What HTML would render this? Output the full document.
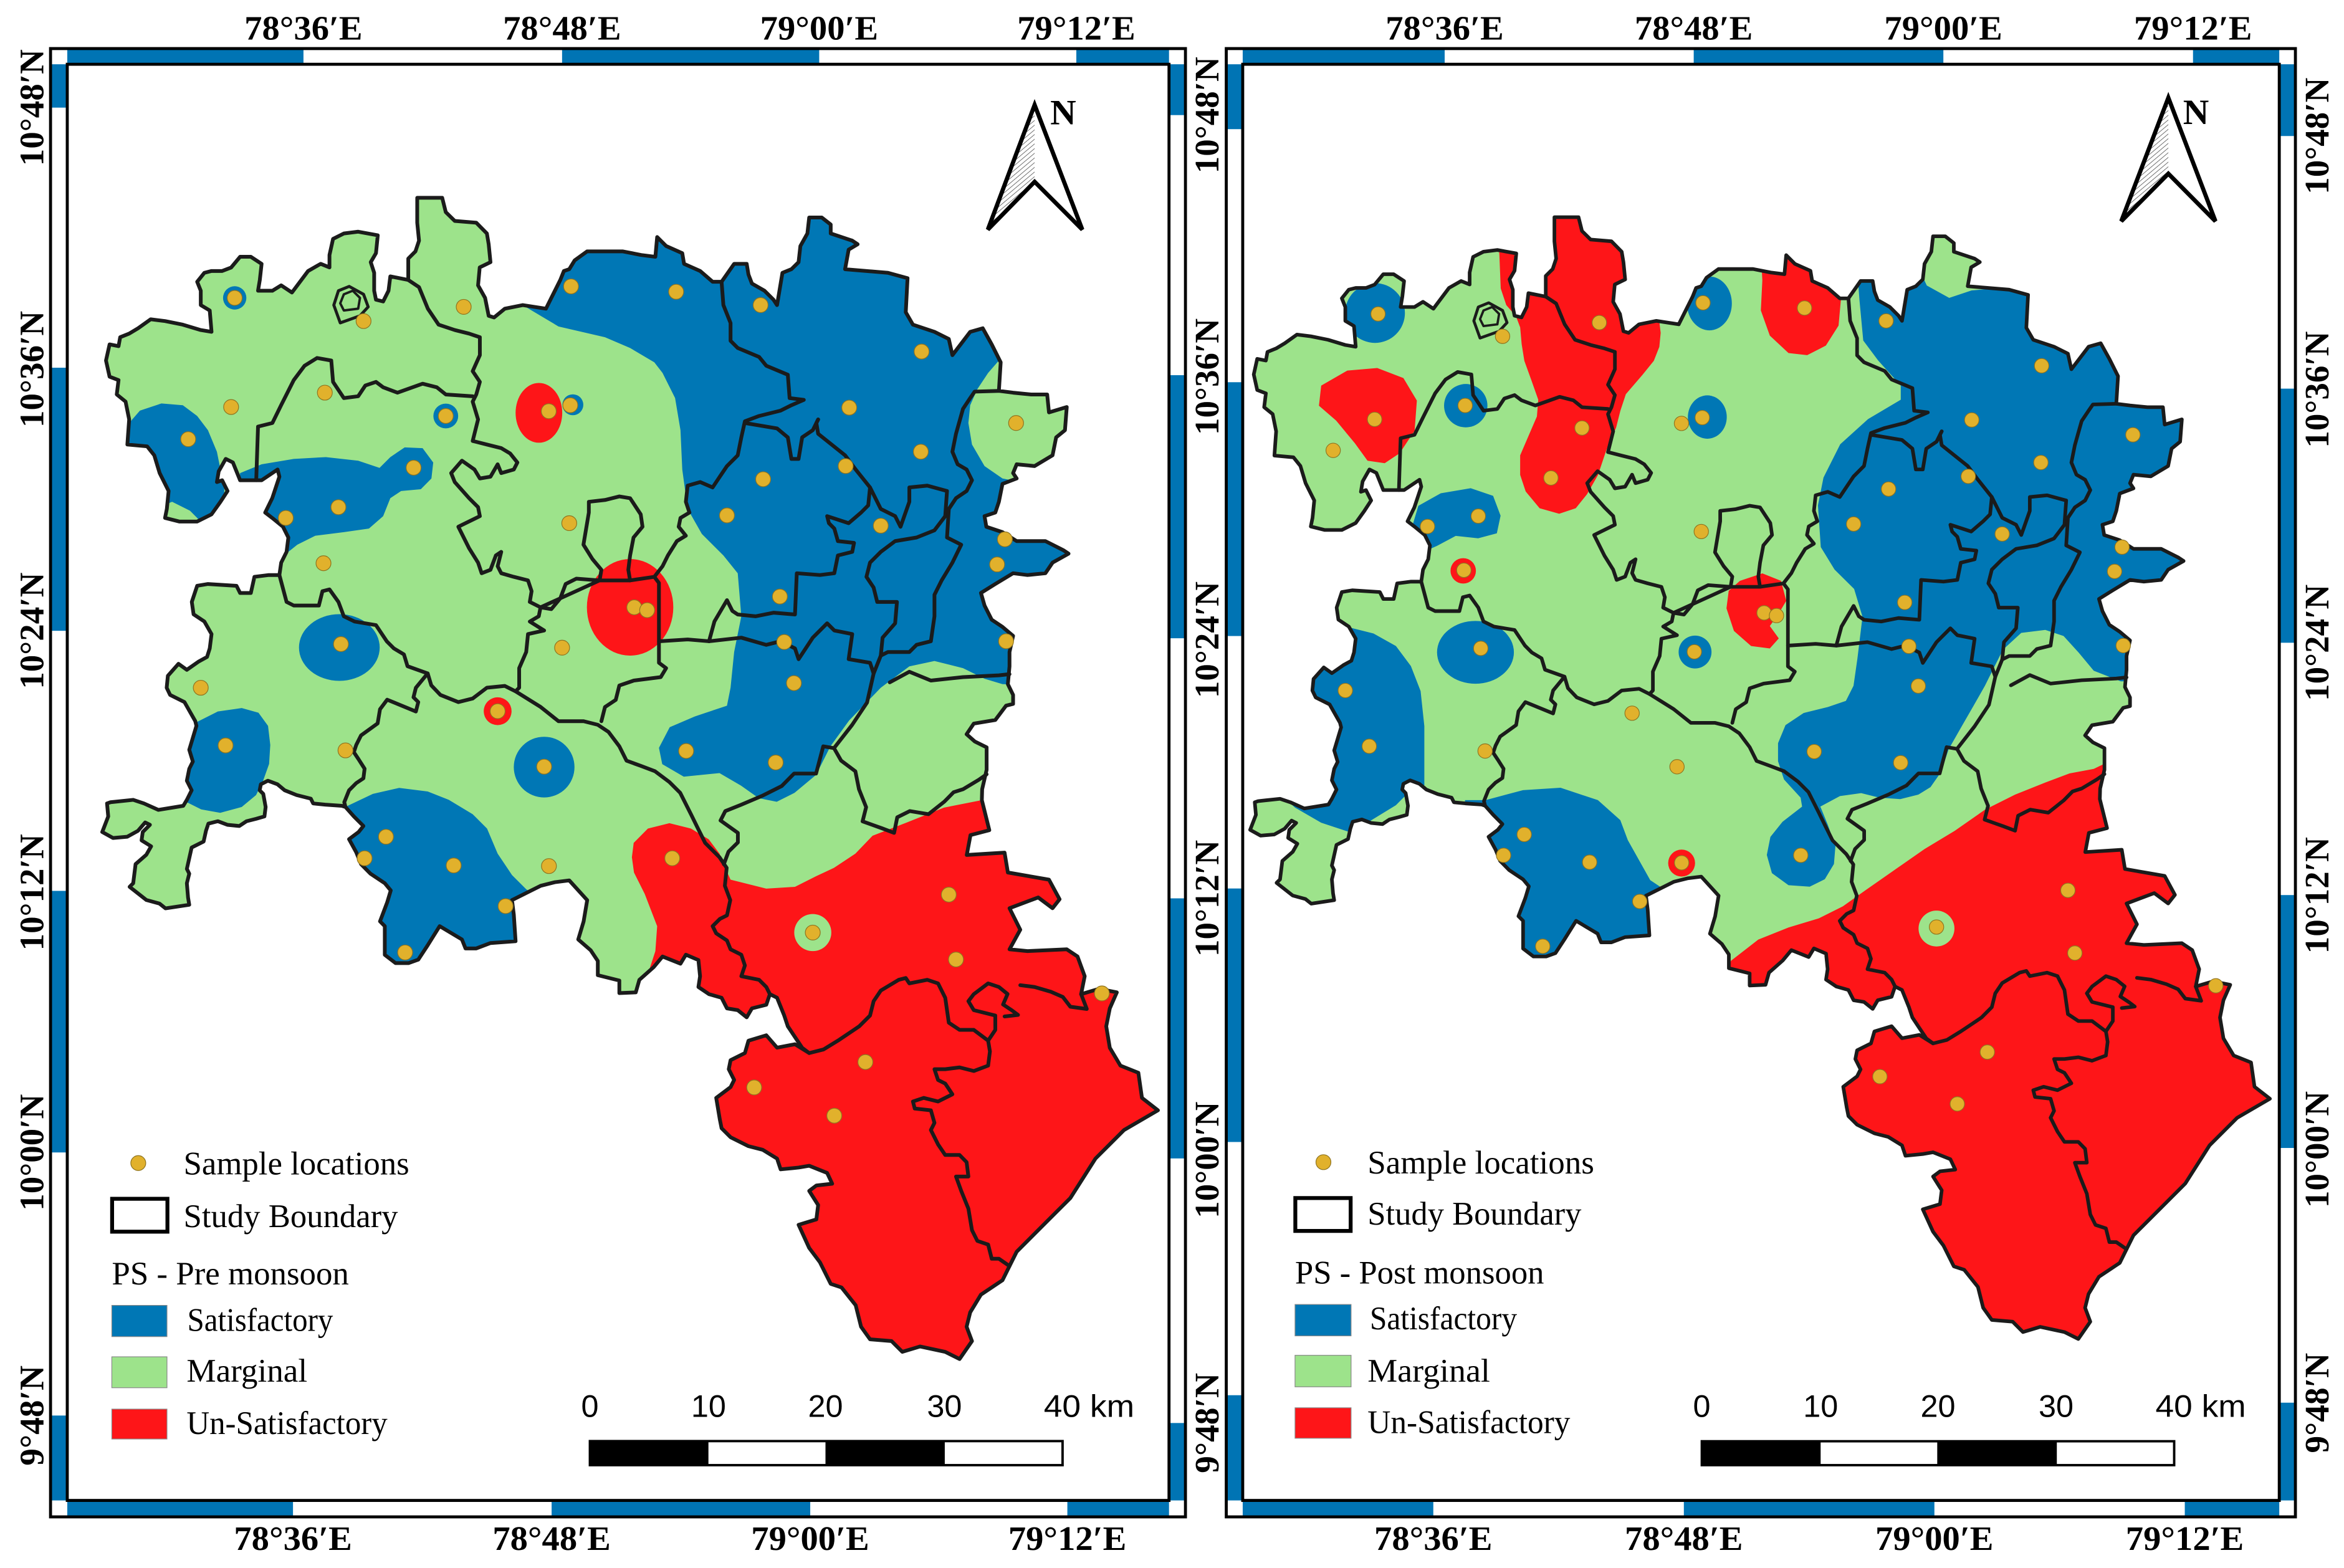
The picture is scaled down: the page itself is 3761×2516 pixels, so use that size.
<!DOCTYPE html>
<html><head><meta charset="utf-8"><style>
html,body{margin:0;padding:0;background:#fff;}
svg{display:block;}
.tk{font-family:"Liberation Serif",serif;font-weight:bold;font-size:23px;fill:#000;}
.lg{font-family:"Liberation Serif",serif;font-size:22px;fill:#000;}
.sc{font-family:"Liberation Sans",sans-serif;font-size:21px;fill:#000;}
</style></head><body>
<svg width="3761" height="2516" viewBox="0 0 1568 1049" preserveAspectRatio="none" xmlns="http://www.w3.org/2000/svg" xmlns:xlink="http://www.w3.org/1999/xlink">
<defs>
<pattern id="hatch" width="2.4" height="2.4" patternUnits="userSpaceOnUse" patternTransform="rotate(-40)">
<rect width="2.4" height="2.4" fill="#fff"/><line x1="0" y1="0" x2="2.4" y2="0" stroke="#555" stroke-width="0.7"/>
</pattern>
<polygon id="bnd" points="70.9,241.2 73.3,230.4 79.3,231.6 80.4,225.6 86.4,223.2 92.4,219.6 100.8,213.6 110.4,214.8 122.3,217.2 134.3,220.8 141.5,222 140.3,207.7 134.3,204.1 134.3,194.5 131.9,188.5 136.7,182.5 141.5,181.3 148.6,181.3 154.6,179 160.6,171.8 167.8,171.8 175,176.5 173.8,187.3 172.6,194.5 182.2,194.5 188.1,190.9 195.3,195.7 206.1,181.3 214.5,176.5 220.4,178.9 220.4,170.6 222.8,159.8 230,156.2 239.6,155 252.7,157.4 251.5,169.4 248,175.4 250.3,182.5 250.3,194.5 251.5,200.5 256.3,201.7 259.9,194.5 261.1,184.9 273.1,187.3 273.1,173 277.9,168.2 280.3,161 279.1,149 279.1,132.3 295.8,132.3 298.2,141.9 304.2,147.8 318.6,149 325.7,156.2 326.9,163.4 328.1,175.4 320.9,178.9 319.8,190.9 324.5,199.3 326.9,211.3 330.5,212.4 337.7,206.5 349.7,204.1 365.2,206.5 370,196.9 374.8,187.3 377.2,181.3 380.8,180.1 384.4,174.2 392.7,168.2 416.7,168.2 428.9,170.6 438.4,171.8 439.6,158.6 445.6,164.6 456.4,169.4 457.6,176.5 468.4,181.3 476.7,188.5 482.7,188.5 491.1,176.5 499.5,176.5 500.7,183.7 503,189.7 511.4,194.5 517.4,200.5 519.8,204.1 522.2,189.7 523.4,182.5 529.4,180.1 534.2,175.4 535.4,164.6 540.1,156.2 541.3,145.5 549.7,145.5 555.7,150.2 555.7,156.2 570.1,161 573.7,163.4 567.7,167 565.3,180.1 594,182.5 607.1,186.1 605.9,208.9 610.7,217.2 625.1,222 634.7,226.8 637.1,237.6 649,222 657.4,219.6 663.4,230.4 669.4,242.4 668.2,261.5 677.7,262.7 689.7,263.9 700.5,263.9 701.7,275.9 713.6,272.3 712.4,287.8 706.5,292.6 704.1,304.6 692.1,311.8 680.1,310.6 677.7,316.5 680.1,320.1 670.6,323.7 668.2,335.7 665.8,342.9 658.6,345.3 659.8,352.4 670.6,356 680.1,362 699.3,362 711.2,368 714.8,370.4 704.1,376.4 699.3,383.5 687.3,384.7 677.7,383.5 665.8,390.7 656.2,396.7 658.6,405.1 663.4,414.6 670.6,419.4 677.7,425.4 675.3,436.2 675.3,445.8 674.2,457.7 677.7,464.9 677.7,470.9 673,472.1 665.8,481.7 651.4,484.1 646.6,491.2 652,496 660,500 660,515 657,528 656.8,535.3 661.8,555.4 649.2,558.7 646.7,572 672,570.4 674.2,583.7 701.7,588.5 708.8,601.6 704.1,607.6 694.5,600.4 675.3,607.6 682.5,622 675.3,635.1 687.3,636.3 713.6,635.1 720.8,639.9 725.6,653.1 723.2,665.1 735.2,661.5 747.1,663.9 742.4,674.6 740,686.6 742.4,701 749.5,712.9 761.5,717.7 763.9,734.5 774.6,742.8 751.9,756 732.8,775.1 716,801.5 699.3,818.2 680.1,837.4 675.3,847 670.6,856.5 656.2,866.1 649,878 646.6,887.6 650.2,897.2 641.9,909.2 632.3,904.4 615.5,900.8 603.6,904.4 596.4,897.2 582,896 576,887.6 572.4,873.2 562.9,861.3 555.7,858.9 548.5,844.5 541.3,834.9 534.2,819.4 546.1,815.8 547.3,806.2 541.3,796.7 546.1,793.1 556.7,791.9 553.3,784.7 541.3,779.9 534.2,781.1 522.2,782.3 519.8,775.1 510.2,769.2 500.7,766.8 488.7,760.8 482.7,754.8 481.5,748.8 479.1,734.5 488.7,727.3 491.1,722.5 487.5,715.3 488.7,709.3 498.3,704.5 500.7,696.2 512.6,692.6 519.8,700.9 531.8,698.6 541.3,704.5 536.6,701 531.8,693.8 527,686.6 524.6,679.4 519.8,667.5 515,665.1 512.6,672.2 503,674.6 499.5,680.6 493.5,675.8 486.3,674.6 482.7,667.5 474.3,665.1 467.2,660.3 468.3,653.1 467.2,642.3 458.8,638.7 455.2,644.7 443.2,639.9 437.2,647.1 427.7,655.5 425.3,663.9 414.3,664.4 414.3,656 399.9,652.4 399.9,642.9 395.1,635.7 386.8,628.5 390.4,616.5 392.8,602.2 380.8,589 371.2,590.2 361.7,592.6 352.1,597.4 342.5,602.2 343.7,611.8 344.9,629.7 328.1,630.9 318.6,634.5 311.4,634.5 309,628.5 294.1,619.6 286.1,632.4 279.8,642 273.4,644.3 264.6,644.3 257.4,638.8 257.4,629.2 257.4,619.6 254.2,616.4 259,603.7 261.4,595.7 257.4,590.9 247.8,584.5 241.5,578.1 238.3,570.2 233.5,561.4 239.9,556.6 243.1,552.6 236.7,546.2 231.1,539.9 228.7,539.1 217.5,538.3 209.5,537.5 207.9,534.3 198.4,531.9 190.4,528.7 185.6,524.7 179.2,522.3 174.5,524.7 173.7,528.7 176.1,531.1 177.7,539.9 176.9,546.2 171.3,547.8 164.9,549.4 160.1,552.6 152.1,551.8 145.7,549.4 139.4,551 137.8,555.8 136.2,563 128.2,567 125,581.3 126.6,584.5 125,590.9 125.8,600.5 126.6,605.3 110.7,607.7 106.7,604.5 97.9,602.1 86.7,593.3 89.1,590.9 90.7,578.1 97.9,571.8 101.1,566.2 94.7,562.2 95.5,556.6 100.3,551.8 97.1,550.2 92.3,555.8 85.1,559.8 75.6,560.6 68.4,556.6 72.4,546.2 71.6,537.5 73.9,536.7 89.1,535.1 96.3,537.5 105.9,541.8 122.6,539.1 125,535.1 128.2,528.7 125,522.3 126.6,514.3 129,509.5 126.6,501.6 129,493.6 131.4,485.6 130.6,482.4 123.4,469.7 113.8,464.9 111.5,460.1 112.3,452.1 119.4,444.1 125,448.1 133,442.5 138.5,439.5 140.3,433.8 141.5,424.2 136.7,415.8 129.5,411 128.3,402.7 131.9,391.9 139.1,390.7 158.2,391.9 160.6,396.7 167.8,396.7 170.2,385.9 179.8,384.7 186.9,384.7 188.1,376.4 191.7,369.2 192.9,359.6 189.3,352.4 182.1,346.5 177.4,342.9 182.1,333.3 186.9,318.9 185.7,314.1 175,321.3 171.4,321.3 160.6,321.3 155.8,309.4 151,307 146.3,315.3 145.1,322.5 148.6,321.3 152.2,328.5 147.5,335.7 141.5,344.1 131.9,348.9 119.9,348.9 110.4,346.5 111.6,340.5 112.8,328.5 106.8,316.5 103.2,304.6 98.4,298.6 85.2,297.4 86.4,280.6 84,268.7 78.1,263.9 79.3,254.3 73.3,252"/>
<clipPath id="clipB" clipPathUnits="userSpaceOnUse"><use xlink:href="#bnd" href="#bnd"/></clipPath>
<g id="lines" fill="none" stroke="#1b1b1b" stroke-width="2.5" stroke-linejoin="round" stroke-linecap="round">
<use xlink:href="#bnd" href="#bnd"/>
<polyline points="171.4,321.3 172.6,285.4 182.2,283 188.1,271 196.5,254.3 203.7,244.7 212.1,239.5 221.6,241.2 222.8,255.5 230,266.3 239.6,265.1 244.4,257.9 251.5,255.5 256.3,259.1 265.9,262.7 282.7,256.7 292.2,259.1 298.2,263.9 316.2,265.1"/>
<polyline points="273.1,187.3 280.3,192.1 286.2,206.5 293.4,217.2 304.2,220.8 313.8,223.2 321,225.6 321,237.6 316.2,248.3 321,255.5 318.6,263.9 316.2,268.7 319.8,280.6 316.2,295 325.7,297.4 335.3,299.8 341.3,303.4 346.1,309.4 343.7,314.1 335.3,316.5 332.9,310.6 328.1,318.9 321,320.1 317.4,314.1 309,308.2 301.8,316.5 304.2,322.5 313.8,333.3 319.8,339.3 321,345.3 309,351.2 306.6,352.4 313.8,366.8 319.8,376.4 322.2,383.5 328.1,381.2 331.7,371.6 335.3,369.2 332.9,378.8 335.3,383.5 343.7,385.9 353.2,388.3 355.6,395.5 354.4,402.7 361.6,406.3 360.4,412.3 354.4,415.8 364,421.8 353.2,424.2 352,436.2 347.3,447 347.3,460.1 344.9,462.5"/>
<polyline points="186.9,384.7 191.7,402.7 196.5,405.1 213.3,405.1 215.7,395.5 220.4,394.3 226.4,402.7 230,412.3 237.2,415.8 251.5,418.2 258.7,429 263.5,433.8 270.2,437.8 272.6,445.7 286.1,450.5 288.5,458.5 294.6,464.9 306.6,469.7 316.2,467.3 325.7,460.1 337.7,458.9 344.9,462.5 361.7,473 373.6,482.5 390.4,482.5 399.9,484.9 407.1,489.7 414.3,499.3 419.1,508.9 428.7,512.4 438.2,516 447.8,523.2 455,530.4 462.2,544.7 466.9,554.3 471.7,563.9 481.3,573.5 486.1,580.6 484.9,592.6 488.5,602.2 486.3,612.4 481.5,614.8 476.7,619.6 479.1,624.4 486.3,629.2 488.7,635.1 495.9,638.7 498.3,645.9 495.9,653.1 507.8,655.5 512.6,660.3 515,665.1"/>
<polyline points="286.1,450.5 278.2,460.1 276.6,466.5 279.8,469.7 278.2,476 259,468.1 254.2,474.5 252.6,484 241.5,492 238.3,498.4 236.7,503.2 239.9,508 243.9,514.3 243.1,520.7 238.3,523.9 233.5,528.7 230.3,536.7 231.1,539.9"/>
<polyline points="402.3,482.5 404.7,473 411.9,468.2 414.3,458.6 424,455.3 442,453 445.6,447 440.8,443.4 440.8,429"/>
<polygon points="361.6,406.3 368.8,407.5 374.8,400.3 378.4,390.7 385.6,387.1 401.1,388.3 402.3,381.2 396.3,374 390.3,364.4 393.9,342.9 393.9,335.7 404.7,334.5 414.3,332.1 421.5,333.3 428.6,344.1 429.8,352.4 423.8,359.6 421.5,371.6 420.3,381.2 421.5,388.3 401.1,388.3"/>
<polyline points="421.5,388.3 437.7,385.9 443.2,378.8 446.8,371.6 452.8,362 458.8,358.4 454,352.4 455.2,346.5 461.2,342.9 458.8,335.7 460,324.9 468.4,322.5 476.7,326.1 481.5,318.9 486.3,311.8 493.5,304.6 495.9,292.6 498.3,281.8 507.8,278.3 522.2,274.7 529.4,271.1 537.7,267.5 528.2,266.3 527,250.7 512.6,244.7 507.8,238.8 493.5,232.8 488.7,228 488.7,216.1 483.9,204.1 482.7,188.5"/>
<polyline points="437.7,385.9 440.8,390 440.8,429 460,427.8 474.3,429 477.9,415.8 486.3,401.5 489.9,408.7 493.5,411.1 505.4,412.3 517.4,409.9 531.8,411.1 533,383.5 548.5,384.7 558.1,383.5 560.5,371.6 570.1,369.2 571.3,363.2 560.5,362 558.1,353.6 554.5,350 553.3,345.3 567.7,350 576,342.9 580.8,338.1 582,326.1 572.4,314.1 565.3,304.6 553.3,295 547.3,290.2 546.1,283 547.3,280.6"/>
<polyline points="498.3,283 519.8,286.6 527,292.6 529.4,307 534.2,307 536.6,292.6 543.7,287.8 547.3,280.6"/>
<polyline points="582,326.1 589.2,340.5 598.8,345.3 602.4,352.4 608.3,335.7 608.3,326.1 620.3,324.9 633.5,328.5 632.3,345.3 625.1,354.8 613.1,359.6 598.8,362 589.2,369.2 582,376.4 579.6,385.9 584.4,393.1 586.8,402.7 600,402.7 598.8,417 590.4,426.6 589.2,438.6 584.4,450.6"/>
<polyline points="474.3,429 495.9,426.6 512.6,431.4 522.2,429 531.8,433.8 534.2,441 543.7,426.6 553.3,417 558.1,421.8 570.1,424.2 567.7,441 582,443.4 584.4,450.6"/>
<polyline points="668.2,261.5 652,262 649,266.3 644.2,273.5 639.5,290.2 637.1,302.2 640.6,310.6 646.6,314.1 650.2,321.3 646.6,328.5 639.5,333.3 634.7,340.5 633.5,359.6 643,364.4 637.1,376.4 629.9,388.3 625.1,397.9 625.1,412.3 622.7,429 613.1,431.4 608.3,436.2 594,436.2 589.2,438.6"/>
<polyline points="595.2,456.5 608.3,449.4 622.7,455.3 644.2,453 668.2,451.8 675.3,451"/>
<polyline points="584.4,450.6 580,470 570,485 557.9,500.5 562.7,508.9 572.2,516 574.6,528 579.4,540 577,549.5 583.7,551.9 589.9,554.1 598.1,557.2 600.2,546.8 608.6,542.6 621.1,544.7 631.7,536.3 637.9,530 644.2,528 654.7,521.7 660,518"/>
<polyline points="557.9,500.5 550.7,499.3 545.9,517.5 531.2,517.5 522.9,525.9 510.3,532.2 495.7,538.4 485.2,542.6 482,548.9 493.6,557.2 493.6,563.6 487.3,569.8 484.2,578.2"/>
<polyline points="541.3,704.5 550.9,702.1 560.5,696.2 567.7,691.4 574.8,686.6 582,679.4 584.4,669.8 589.2,662.7 601.2,655.5 605.9,654.3 608.3,657.9 620.3,655.5 627.5,657.9 632.3,667.5 634.7,684.2 641.9,689 651.4,689 661,696.2 662.2,703.4 661,712.9 651.4,716.5 641.9,714.1 632.3,715.3 625.1,715.3 627.5,722.5 632.3,724.9 637.1,732.1 627.5,736.9 617.9,734.5 610.7,736.9 611.9,741.6 622.7,742.8 625.1,751.2 622.7,756 627.5,765.6 632.3,772.7 641.9,772.7 646.6,777.5 647.8,787.1 639.5,787.1 643,796.7 647.8,808.6 650.2,823 653.8,830.2 661,832.6 663.4,842.1 668.2,842.1 675.3,847"/>
<polyline points="661,696.2 665.8,689 665.8,679.4 651.4,675.8 647.8,669.8 651.4,665.1 661,657.9 668.2,660.3 674,665 671,672 677,676 681,679 672,680"/>
<polyline points="682.5,659.1 692.1,660.3 703,663.5 711,667 716,673.5 727,675 723.2,665.1"/>
<polygon points="223.3,204.1 226.4,194.5 233.6,191.6 243.2,196.9 246.3,205.3 240.8,211.3 227.6,216" stroke-width="2"/>
<polygon points="227.6,202.9 230,196.9 236,194.5 240.8,199.3 239.6,206.5 230,207.7" stroke-width="1.6"/>
</g>
<g id="dots" fill="#e1b12c" stroke="#8f7420" stroke-width="0.5">
<circle cx="157" cy="199.3" r="5"/><circle cx="243.2" cy="214.8" r="5"/><circle cx="310.2" cy="205.3" r="5"/><circle cx="382" cy="191.6" r="5"/><circle cx="452.3" cy="195.2" r="5"/><circle cx="508.8" cy="204.1" r="5"/><circle cx="616.5" cy="235.2" r="5"/><circle cx="217.3" cy="262.7" r="5"/><circle cx="154.6" cy="272.3" r="5"/><circle cx="298.2" cy="278.3" r="5"/><circle cx="367.1" cy="275.1" r="5"/><circle cx="381.5" cy="271.1" r="5"/><circle cx="568.1" cy="272.7" r="5"/><circle cx="679.7" cy="283" r="5"/><circle cx="125.9" cy="293.8" r="5"/><circle cx="616" cy="302.2" r="5"/><circle cx="565.7" cy="311.8" r="5"/><circle cx="276.7" cy="312.9" r="5"/><circle cx="510.5" cy="320.6" r="5"/><circle cx="226.4" cy="339.3" r="5"/><circle cx="191.2" cy="346.5" r="5"/><circle cx="486.3" cy="344.8" r="5"/><circle cx="380.8" cy="350" r="5"/><circle cx="589.2" cy="351.7" r="5"/><circle cx="672.2" cy="360.8" r="5"/><circle cx="216.4" cy="376.8" r="5"/><circle cx="667" cy="377.6" r="5"/><circle cx="521.7" cy="399.1" r="5"/><circle cx="424.3" cy="406.3" r="5"/><circle cx="432.9" cy="408.2" r="5"/><circle cx="228.1" cy="430.9" r="5"/><circle cx="376" cy="433.3" r="5"/><circle cx="524.6" cy="429.5" r="5"/><circle cx="673" cy="429" r="5"/><circle cx="134.3" cy="460.1" r="5"/><circle cx="531.1" cy="457" r="5"/><circle cx="332.9" cy="475.8" r="5"/><circle cx="150.9" cy="498.7" r="5"/><circle cx="231.1" cy="502" r="5"/><circle cx="459" cy="502.4" r="5"/><circle cx="518.9" cy="510.1" r="5"/><circle cx="364" cy="512.9" r="5"/><circle cx="258.2" cy="559.8" r="5"/><circle cx="243.9" cy="574.2" r="5"/><circle cx="303.5" cy="579" r="5"/><circle cx="367.2" cy="579.4" r="5"/><circle cx="449.7" cy="574.2" r="5"/><circle cx="338.2" cy="606.2" r="5"/><circle cx="271" cy="637.2" r="5"/><circle cx="543.7" cy="623.9" r="5"/><circle cx="634.7" cy="598.5" r="5"/><circle cx="639.5" cy="641.9" r="5"/><circle cx="737.1" cy="664.6" r="5"/><circle cx="578.9" cy="710.5" r="5"/><circle cx="504.5" cy="727.5" r="5"/><circle cx="558.1" cy="746.4" r="5"/>
</g>
</defs>

<rect x="0" y="0" width="1568" height="1049" fill="#fff"/>

<!-- ============ LEFT PANEL FRAME ============ -->
<g fill="#0074b4">
<rect x="45" y="32.5" width="158" height="10.5"/><rect x="376" y="32.5" width="172" height="10.5"/><rect x="720" y="32.5" width="62" height="10.5"/>
<rect x="45" y="1003.8" width="151" height="11"/><rect x="369" y="1003.8" width="173" height="11"/><rect x="714" y="1003.8" width="68" height="11"/>
<rect x="33.8" y="43" width="11.2" height="29"/><rect x="33.8" y="246" width="11.2" height="176"/><rect x="33.8" y="596" width="11.2" height="175"/><rect x="33.8" y="947" width="11.2" height="56.8"/>
<rect x="782" y="43" width="11" height="34"/><rect x="782" y="251" width="11" height="176"/><rect x="782" y="601" width="11" height="174"/><rect x="782" y="952" width="11" height="51.8"/>
</g>
<rect x="33.8" y="32.5" width="759.2" height="982.3" fill="none" stroke="#000" stroke-width="2"/>
<rect x="45" y="43" width="737" height="960.8" fill="none" stroke="#000" stroke-width="2"/>

<!-- ============ RIGHT PANEL FRAME ============ -->
<g fill="#0074b4">
<rect x="831.3" y="32.5" width="135.1" height="10.5"/><rect x="1133" y="32.5" width="167" height="10.5"/><rect x="1467" y="32.5" width="57.7" height="10.5"/>
<rect x="831.3" y="1003.8" width="127.5" height="11"/><rect x="1126.4" y="1003.8" width="167.6" height="11"/><rect x="1461.5" y="1003.8" width="63.2" height="11"/>
<rect x="820.3" y="43" width="11" height="43.4"/><rect x="820.3" y="255.7" width="11" height="169.8"/><rect x="820.3" y="594.4" width="11" height="169.6"/><rect x="820.3" y="933.4" width="11" height="70.4"/>
<rect x="1524.7" y="43" width="10.8" height="48"/><rect x="1524.7" y="260" width="10.8" height="170"/><rect x="1524.7" y="598.8" width="10.8" height="169.2"/><rect x="1524.7" y="938.4" width="10.8" height="65.4"/>
</g>
<rect x="820.3" y="32.5" width="715.2" height="982.3" fill="none" stroke="#000" stroke-width="2"/>
<rect x="831.3" y="43" width="693.4" height="960.8" fill="none" stroke="#000" stroke-width="2"/>

<!-- ============ TICK LABELS ============ -->
<g class="tk" text-anchor="middle">
<text x="203" y="26.5" textLength="79" lengthAdjust="spacingAndGlyphs">78°36′E</text>
<text x="376" y="26.5" textLength="79" lengthAdjust="spacingAndGlyphs">78°48′E</text>
<text x="548" y="26.5" textLength="79" lengthAdjust="spacingAndGlyphs">79°00′E</text>
<text x="720" y="26.5" textLength="79" lengthAdjust="spacingAndGlyphs">79°12′E</text>
<text x="196" y="1037" textLength="79" lengthAdjust="spacingAndGlyphs">78°36′E</text>
<text x="369" y="1037" textLength="79" lengthAdjust="spacingAndGlyphs">78°48′E</text>
<text x="542" y="1037" textLength="79" lengthAdjust="spacingAndGlyphs">79°00′E</text>
<text x="714" y="1037" textLength="79" lengthAdjust="spacingAndGlyphs">79°12′E</text>
<text x="966.4" y="26.5" textLength="79" lengthAdjust="spacingAndGlyphs">78°36′E</text>
<text x="1133" y="26.5" textLength="79" lengthAdjust="spacingAndGlyphs">78°48′E</text>
<text x="1300" y="26.5" textLength="79" lengthAdjust="spacingAndGlyphs">79°00′E</text>
<text x="1467" y="26.5" textLength="79" lengthAdjust="spacingAndGlyphs">79°12′E</text>
<text x="958.8" y="1037" textLength="79" lengthAdjust="spacingAndGlyphs">78°36′E</text>
<text x="1126.4" y="1037" textLength="79" lengthAdjust="spacingAndGlyphs">78°48′E</text>
<text x="1294" y="1037" textLength="79" lengthAdjust="spacingAndGlyphs">79°00′E</text>
<text x="1461.5" y="1037" textLength="79" lengthAdjust="spacingAndGlyphs">79°12′E</text>

<text transform="translate(21,72) rotate(-90)" dy="8" textLength="78" lengthAdjust="spacingAndGlyphs">10°48′N</text>
<text transform="translate(21,247) rotate(-90)" dy="8" textLength="78" lengthAdjust="spacingAndGlyphs">10°36′N</text>
<text transform="translate(21,422) rotate(-90)" dy="8" textLength="78" lengthAdjust="spacingAndGlyphs">10°24′N</text>
<text transform="translate(21,597) rotate(-90)" dy="8" textLength="78" lengthAdjust="spacingAndGlyphs">10°12′N</text>
<text transform="translate(21,771) rotate(-90)" dy="8" textLength="78" lengthAdjust="spacingAndGlyphs">10°00′N</text>
<text transform="translate(21,947) rotate(-90)" dy="8" textLength="67" lengthAdjust="spacingAndGlyphs">9°48′N</text>

<text transform="translate(807,77) rotate(-90)" dy="8" textLength="78" lengthAdjust="spacingAndGlyphs">10°48′N</text>
<text transform="translate(807,252) rotate(-90)" dy="8" textLength="78" lengthAdjust="spacingAndGlyphs">10°36′N</text>
<text transform="translate(807,428) rotate(-90)" dy="8" textLength="78" lengthAdjust="spacingAndGlyphs">10°24′N</text>
<text transform="translate(807,601) rotate(-90)" dy="8" textLength="78" lengthAdjust="spacingAndGlyphs">10°12′N</text>
<text transform="translate(807,776) rotate(-90)" dy="8" textLength="78" lengthAdjust="spacingAndGlyphs">10°00′N</text>
<text transform="translate(807,952) rotate(-90)" dy="8" textLength="67" lengthAdjust="spacingAndGlyphs">9°48′N</text>

<text transform="translate(1549.5,91) rotate(-90)" dy="8" textLength="78" lengthAdjust="spacingAndGlyphs">10°48′N</text>
<text transform="translate(1549.5,260.6) rotate(-90)" dy="8" textLength="78" lengthAdjust="spacingAndGlyphs">10°36′N</text>
<text transform="translate(1549.5,430) rotate(-90)" dy="8" textLength="78" lengthAdjust="spacingAndGlyphs">10°24′N</text>
<text transform="translate(1549.5,599) rotate(-90)" dy="8" textLength="78" lengthAdjust="spacingAndGlyphs">10°12′N</text>
<text transform="translate(1549.5,769) rotate(-90)" dy="8" textLength="78" lengthAdjust="spacingAndGlyphs">10°00′N</text>
<text transform="translate(1549.5,938.6) rotate(-90)" dy="8" textLength="67" lengthAdjust="spacingAndGlyphs">9°48′N</text>
</g>

<!-- ============ LEFT MAP (Pre monsoon) ============ -->
<g>
<use xlink:href="#bnd" href="#bnd" fill="#9de38b"/>
<g clip-path="url(#clipB)">
<polygon fill="#0077b5" points="349.6,204.1 373.6,218.4 404.7,225.6 421.5,232.8 437.7,242.4 443.2,249.5 451.6,266.3 455.2,287.8 456.4,314.1 460,340.5 469.5,357.2 483.9,371.6 493.5,383.5 495.9,412.3 491.1,436.2 488.7,460.1 486.3,472.1 464.8,479.3 448,486.5 440.8,500.3 443,511.2 457.4,519.6 481.3,517.2 495.7,525.6 507.6,534 519.6,536.4 531.5,530.4 545.9,518.4 555.5,499.3 568,482 589.2,460.1 608.3,445.8 625.1,442.2 644.2,447 658.6,454.1 670.6,457.7 680,458 760,458 760,120 340,120"/>
<polygon fill="#9de38b" points="668.2,241.2 661,249.5 653.8,260.3 649,271.1 647.8,283 650.2,297.4 658.6,311.8 670.6,320.1 676.5,321.3 740,321.3 740,235"/>
<polygon fill="#0077b5" points="78,285 86.4,283 93.6,274.7 108,269.9 122.3,271.1 131.9,278.3 139.1,287.8 145.1,302.2 147.5,314.1 150,325 150,345 134.3,348.9 127.1,341.7 115.1,335.7 105,340 78,340"/>
<polygon fill="#0077b5" points="160.6,316.5 175,310.6 196.5,307 218,305.8 239.6,308.2 253.9,313 261.1,305.8 270.7,299.3 282.7,299.8 289.8,309.4 288.6,320.1 281.5,327.3 268.3,328.5 261.1,333.3 256.3,345.3 246.8,353.6 230,356 210.9,358.4 198.9,364.4 192.9,369.2 185,375 170,360 160,330"/>
<ellipse fill="#0077b5" cx="227" cy="433.2" rx="27" ry="22.3"/>
<polygon fill="#0077b5" points="133,482.4 145.7,476 161.7,473.7 172.9,476.8 179.3,485.6 180.8,498.4 180,511.1 176,522.3 171.3,531.9 161.7,539.9 147.3,543.8 134.6,541.5 125,536.7 115,520 118,490"/>
<circle fill="#0077b5" cx="364" cy="513.2" r="20.3"/>
<polygon fill="#0077b5" points="232.6,539.1 249.4,531.1 267,527.1 286.1,529.5 300.2,535.1 316.2,544.7 325.8,554.3 332.9,571.1 342.5,585.4 352.1,595 360,600 360,660 220,660 220,541"/>
<circle fill="#0077b5" cx="157" cy="199.3" r="7.8"/>
<circle fill="#0077b5" cx="298.2" cy="278.3" r="8.3"/>
<circle fill="#0077b5" cx="383.2" cy="270.8" r="7"/>
<ellipse fill="#fe1518" cx="360.5" cy="276.2" rx="15.6" ry="20"/>
<ellipse fill="#fe1518" cx="421.5" cy="406.3" rx="28.9" ry="32.3"/>
<circle fill="#fe1518" cx="332.9" cy="475.8" r="9.3"/>
<polygon fill="#fe1518" points="656.8,535.3 631.5,540.3 606.2,550.4 583.7,559.1 572.2,571.1 557.9,580.6 546.1,586.1 531.8,593.3 512.6,594.5 488.7,588.5 487.3,585.4 481.3,571.1 474.1,561.5 462.2,554.3 447.8,550.7 433.4,554.3 423.9,563.9 422.7,573.5 424.1,583.7 431.3,598.1 439.6,619.6 438.4,636.3 433.7,650.7 428.9,660.3 425.3,663.9 425,1000 800,1000 800,520 660,520"/>
<circle fill="#9de38b" cx="543.7" cy="623.9" r="12.4"/>
</g>
<use xlink:href="#lines" href="#lines"/>
<use xlink:href="#dots" href="#dots"/>
</g>

<!-- ============ RIGHT MAP (Post monsoon) ============ -->
<g transform="translate(770.2,17.5) scale(0.966)">
<use xlink:href="#bnd" href="#bnd" fill="#9de38b"/>
<g clip-path="url(#clipB)">
<g transform="matrix(1.035197,0,0,1.035197,-797.308,-18.116)">
<polygon fill="#0077b5" points="1243.9,201 1246.4,227.8 1256.4,241.2 1271.5,258 1271.5,267.4 1249.6,280.4 1231,297.2 1219.8,319.5 1216.1,338.1 1218,366 1227.2,381 1240.3,394 1245.9,412.6 1242.5,440.6 1239.9,458.8 1234.8,468.9 1222.7,473 1206.5,477 1194.4,485.1 1189.4,497.2 1189.4,509.3 1193.4,521.5 1204.5,533.6 1205.5,539.6 1192.4,549.8 1184.3,559.9 1181.9,572 1185.3,584.1 1196.4,592.2 1210.6,593.2 1220.7,588.2 1226.8,578 1227.8,566 1222.7,551.8 1217.7,539.6 1230.8,532.6 1245,530.6 1257.1,533.6 1271.2,534.6 1283.3,531.6 1291.4,526.6 1298.5,516.4 1303.5,501.3 1311.6,487.1 1319.7,473 1327.8,458.8 1333.8,446.7 1339.9,434.6 1352.1,423.4 1368.2,421.4 1380.4,425.5 1390.5,436.6 1400.6,448.7 1418.7,455.8 1490,455.8 1490,140 1345,140 1338.9,192.6 1318.9,194.3 1303.9,199.3 1288.9,191 1270,150 1240,150"/>
<polygon fill="#0077b5" points="898.8,418.8 918.8,423.8 933.8,432.2 943.8,445.6 950.3,462.3 952.8,485.8 952.8,525.3 943.8,528.6 933.8,538.7 903.8,557 883.8,550.4 866.3,540.3 855,530 840,525 840,418.8"/>
<polygon fill="#0077b5" points="993.8,535.3 1018.8,528.6 1043.9,527 1068.9,535.3 1083.9,548.7 1088.9,562 1096.4,575.4 1103.9,588.8 1111.4,593.8 1111.4,650 980,650 980,535.3"/>
<circle fill="#0077b5" cx="919.8" cy="209.4" r="20"/>
<circle fill="#0077b5" cx="980.5" cy="271.4" r="14.5"/>
<ellipse fill="#0077b5" cx="1142.1" cy="279" rx="13" ry="14.5"/>
<ellipse fill="#0077b5" cx="1143.5" cy="203" rx="15" ry="18"/>
<polygon fill="#0077b5" points="948.8,338.4 963.8,330 983.8,326.6 998.8,331.7 1003.8,345 1001.3,356.8 988.8,360.1 973.8,358.5 961.3,365.2 953.8,368.5 943.8,355.1"/>
<ellipse fill="#0077b5" cx="987" cy="436.4" rx="25.7" ry="21"/>
<circle fill="#0077b5" cx="1133.9" cy="436.2" r="11"/>
<polygon fill="#fe1518" points="883.8,258 901.3,247.9 921.3,246.2 938.8,252.9 947.8,268 946.3,288.1 936.3,303.2 926.3,309.9 914.8,308.2 906.3,296.5 893.8,281.4 882.3,271.4"/>
<polygon fill="#fe1518" points="1003,170.6 1003.9,193 1007.6,204.1 1014.1,211.6 1016.9,219 1017.9,230.2 1019.7,241.4 1024.4,254.4 1029,267.4 1028.1,278.6 1022.5,291.6 1016.9,304.6 1016.9,317.7 1020.6,328.8 1029.9,340 1043,343.7 1054.1,340 1061.6,330.7 1069,317.7 1074.6,300.9 1081.1,286 1083.9,274.9 1087.6,263.7 1098.8,250.7 1106.3,241.4 1110,232 1110.9,222.7 1110,215.3 1100,200 1090,130 1000,130"/>
<polygon fill="#fe1518" points="1178.9,187.6 1177.9,207.7 1183.9,224.5 1196.4,236.2 1208.9,237.6 1221.4,231.2 1229.9,217.8 1231.4,201 1233,170 1178,170"/>
<polygon fill="#fe1518" points="1163.9,388.6 1178.9,383.6 1191.4,388.6 1194.9,402 1188.9,412 1183.9,418.8 1189.9,427.1 1183.9,433.8 1171.4,432.2 1159.9,422.1 1154.9,407 1156.4,395.3"/>
<polygon fill="#fe1518" points="1158,642.7 1176.2,628.6 1196.4,620.5 1216.6,614.4 1232.8,606.3 1247,596.2 1267.2,582.1 1287.4,568 1307.6,555.8 1327.8,541.7 1348,531.6 1368.2,523.5 1384.4,517.4 1400.6,514.4 1420,505 1560,505 1560,960 1150,960 1150,660"/>
<circle fill="#9de38b" cx="1295.4" cy="621.2" r="12"/>
<circle fill="#fe1518" cx="978.8" cy="381.9" r="8.5"/>
<circle fill="#fe1518" cx="1124.9" cy="577.4" r="9"/>
</g>
</g>
<use xlink:href="#lines" href="#lines"/>
<use xlink:href="#dots" href="#dots"/>
</g>

<!-- ============ NORTH ARROWS ============ -->
<polygon points="692.1,72 692.1,121.6 662,152" fill="url(#hatch)"/>
<polygon points="692.1,70.2 724,153.6 692.1,121.6 660.8,153.6" fill="none" stroke="#000" stroke-width="2.8" stroke-linejoin="miter"/>
<text x="711.2" y="83.1" text-anchor="middle" style="font-family:'Liberation Serif',serif;font-weight:bold;font-size:24px;">N</text>

<polygon points="1450.5,67 1450.5,116.2 1420,146.5" fill="url(#hatch)"/>
<polygon points="1450.5,65.4 1482,148 1450.5,116.2 1419,148" fill="none" stroke="#000" stroke-width="2.8" stroke-linejoin="miter"/>
<text x="1469" y="83" text-anchor="middle" style="font-family:'Liberation Serif',serif;font-weight:bold;font-size:24px;">N</text>

<!-- ============ LEFT LEGEND ============ -->
<circle cx="92.5" cy="778.1" r="5" fill="#e1b12c" stroke="#8f7420" stroke-width="0.5"/>
<text class="lg" x="122.8" y="785.8" textLength="151" lengthAdjust="spacingAndGlyphs">Sample locations</text>
<rect x="75" y="802" width="37" height="22" fill="#fff" stroke="#000" stroke-width="2.6"/>
<text class="lg" x="122.8" y="820.9" textLength="143.4" lengthAdjust="spacingAndGlyphs">Study Boundary</text>
<text class="lg" x="74.8" y="859.2" textLength="158.6" lengthAdjust="spacingAndGlyphs">PS - Pre monsoon</text>
<rect x="74.8" y="873.3" width="36.9" height="20.9" fill="#0077b5" stroke="#888" stroke-width="0.5"/>
<text class="lg" x="125.3" y="890.3" textLength="97.5" lengthAdjust="spacingAndGlyphs">Satisfactory</text>
<rect x="74.8" y="907.7" width="36.9" height="20.7" fill="#9de38b" stroke="#888" stroke-width="0.5"/>
<text class="lg" x="124.8" y="924.3" textLength="80.8" lengthAdjust="spacingAndGlyphs">Marginal</text>
<rect x="74.8" y="942.7" width="36.9" height="20" fill="#fe1518" stroke="#888" stroke-width="0.5"/>
<text class="lg" x="124.8" y="959.4" textLength="134.4" lengthAdjust="spacingAndGlyphs">Un-Satisfactory</text>

<!-- left scale bar -->
<g class="sc" text-anchor="middle">
<text x="394.6" y="947.8">0</text><text x="474" y="947.8">10</text><text x="552.2" y="947.8">20</text><text x="631.8" y="947.8">30</text>
<text x="698.2" y="947.8" text-anchor="start" textLength="60.6" lengthAdjust="spacingAndGlyphs">40 km</text>
</g>
<rect x="394.6" y="964.1" width="316.2" height="16.1" fill="#fff" stroke="#000" stroke-width="1.6"/>
<rect x="394.6" y="964.1" width="79.3" height="16.1" fill="#000"/>
<rect x="552.2" y="964.1" width="79.8" height="16.1" fill="#000"/>

<!-- ============ RIGHT LEGEND ============ -->
<circle cx="885.3" cy="777.5" r="5" fill="#e1b12c" stroke="#8f7420" stroke-width="0.5"/>
<text class="lg" x="914.8" y="785.1" textLength="151.6" lengthAdjust="spacingAndGlyphs">Sample locations</text>
<rect x="866.5" y="801.5" width="37" height="22" fill="#fff" stroke="#000" stroke-width="2.6"/>
<text class="lg" x="914.8" y="819.2" textLength="143.1" lengthAdjust="spacingAndGlyphs">Study Boundary</text>
<text class="lg" x="866.3" y="858.6" textLength="166.6" lengthAdjust="spacingAndGlyphs">PS - Post monsoon</text>
<rect x="866.3" y="872.7" width="37.5" height="21" fill="#0077b5" stroke="#888" stroke-width="0.5"/>
<text class="lg" x="916.3" y="889.4" textLength="98.5" lengthAdjust="spacingAndGlyphs">Satisfactory</text>
<rect x="866.3" y="906.7" width="37.5" height="21.1" fill="#9de38b" stroke="#888" stroke-width="0.5"/>
<text class="lg" x="914.8" y="924.4" textLength="82" lengthAdjust="spacingAndGlyphs">Marginal</text>
<rect x="866.3" y="941.8" width="37.5" height="20.4" fill="#fe1518" stroke="#888" stroke-width="0.5"/>
<text class="lg" x="914.8" y="958.8" textLength="135.6" lengthAdjust="spacingAndGlyphs">Un-Satisfactory</text>

<!-- right scale bar -->
<g class="sc" text-anchor="middle">
<text x="1138.4" y="947.8">0</text><text x="1217.9" y="947.8">10</text><text x="1296.4" y="947.8">20</text><text x="1375.4" y="947.8">30</text>
<text x="1441.9" y="947.8" text-anchor="start" textLength="60.5" lengthAdjust="spacingAndGlyphs">40 km</text>
</g>
<rect x="1138.4" y="964.2" width="316" height="16" fill="#fff" stroke="#000" stroke-width="1.6"/>
<rect x="1138.4" y="964.2" width="79.5" height="16" fill="#000"/>
<rect x="1295.9" y="964.2" width="80" height="16" fill="#000"/>
</svg>
</body></html>
